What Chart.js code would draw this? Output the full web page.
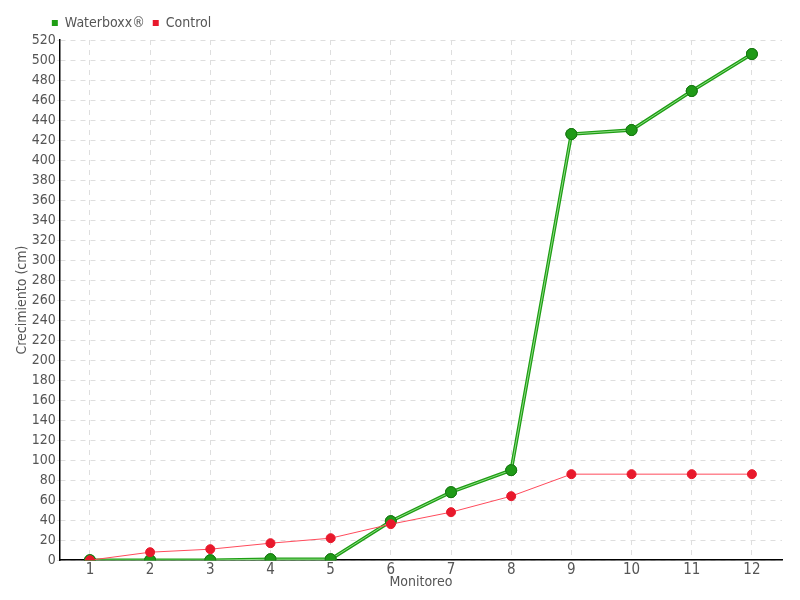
<!DOCTYPE html>
<html>
<head>
<meta charset="utf-8">
<script src="https://cdn.jsdelivr.net/npm/chart.js@4"></script>
<style>
  html, body { margin: 0; padding: 0; background: #fff; }
  #wrap { width: 800px; height: 600px; }
</style>
</head>
<body>
<div id="wrap"><canvas id="growthChart"></canvas></div>
<script>
const monitoreos = ["1", "2", "3", "4", "5", "6", "7", "8", "9", "10", "11", "12"];
const waterboxx = [0, 0, 0, 1, 1, 39, 68, 90, 426, 430, 469, 506];
const control = [0, 8, 11, 17, 22, 36, 48, 64, 86, 86, 86, 86];

const fontFamily = "'Liberation Sans Narrow', 'DejaVu Sans Condensed', sans-serif";
const textColor = "#555";
const greenPoint = "#1f9a17";
const greenEdge = "#177812";

// move the legend a bit to the left, like the original
const legendShift = {
  id: "legendShift",
  afterLayout(chart) {
    chart.legend.left -= 16;
    chart.legend.right -= 16;
  },
};

const growthChart = document.getElementById("growthChart");

new Chart(growthChart, {
  type: "line",
  data: {
    labels: monitoreos,
    datasets: [
      {
        label: "Waterboxx®",
        data: waterboxx,
        order: 2,
        borderColor: "#1e9e14",
        backgroundColor: "#1e9e14",
        borderWidth: 3.5,
        pointRadius: 5.5,
        pointBackgroundColor: greenPoint,
        pointBorderColor: greenEdge,
        pointBorderWidth: 1,
        tension: 0,
      },
      {
        label: "Control",
        data: control,
        order: 0,
        borderColor: "#ff4b5c",
        backgroundColor: "#e8192c",
        borderWidth: 1,
        pointRadius: 4.5,
        pointBackgroundColor: "#e8192c",
        pointBorderColor: "#e8192c",
        tension: 0,
      },
      {
        // light inner stripe of the green line
        label: "stripe",
        data: waterboxx,
        order: 1,
        borderColor: "rgba(170, 235, 160, 0.8)",
        borderWidth: 1,
        pointRadius: 5.5,
        pointBackgroundColor: greenPoint,
        pointBorderColor: greenEdge,
        pointBorderWidth: 1,
        tension: 0,
      },
    ],
  },
  plugins: [legendShift],
  options: {
    responsive: true,
    maintainAspectRatio: false,
    animation: false,
    layout: { padding: { left: 14, right: 18, top: 8, bottom: 9 } },
    plugins: {
      legend: {
        position: "top",
        align: "start",
        fullSize: false,
        labels: {
          boxWidth: 6,
          boxHeight: 6,
          padding: 8,
          color: textColor,
          font: { size: 14, family: fontFamily },
          generateLabels: (chart) =>
            Chart.defaults.plugins.legend.labels
              .generateLabels(chart)
              .map((item) => ({ ...item, lineWidth: 0 })),
          filter: (item) => item.text !== "stripe",
          sort: (a, b) => a.datasetIndex - b.datasetIndex,
        },
      },
      tooltip: { enabled: false },
    },
    scales: {
      x: {
        offset: true,
        grid: {
          offset: false,
          color: "#dedede",
          drawTicks: false,
        },
        border: { color: "#000", width: 1.5, dash: [5, 5] },
        ticks: { color: textColor, font: { size: 15, family: fontFamily }, padding: 1 },
        title: {
          display: true,
          text: "Monitoreo",
          color: textColor,
          font: { size: 14, family: fontFamily },
          padding: { top: -6, bottom: 0 },
        },
      },
      y: {
        min: 0,
        max: 520,
        grid: { color: "#dedede", tickLength: 3 },
        border: { color: "#000", width: 1.5, dash: [5, 5] },
        ticks: {
          stepSize: 20,
          autoSkip: false,
          color: textColor,
          font: { size: 14, family: fontFamily },
          padding: 1,
        },
        title: {
          display: true,
          text: "Crecimiento (cm)",
          color: textColor,
          font: { size: 14, family: fontFamily },
          padding: { top: 0, bottom: 0 },
        },
      },
    },
  },
});
</script>
</body>
</html>
